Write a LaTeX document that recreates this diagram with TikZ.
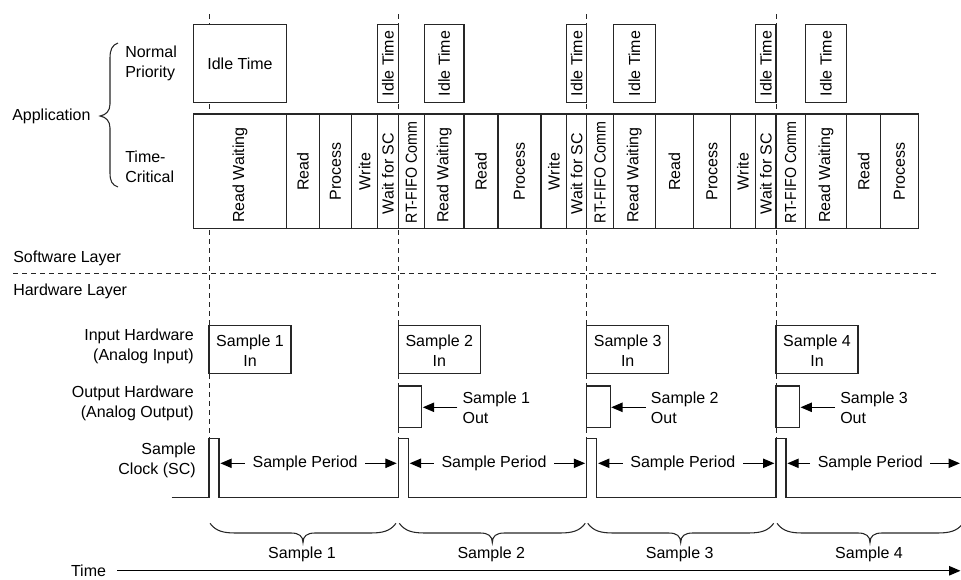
\documentclass[tikz,border=0pt]{standalone}
\usepackage{fontspec}
\setmainfont{Liberation Sans}
\usetikzlibrary{arrows.meta}
\newcommand\rtfifo{\scalebox{0.89}[1]{RT-FIFO Comm}}
\begin{document}
\begin{tikzpicture}[x=0.75pt,y={(0pt,-0.75pt)},
  box/.style={draw=black!85,line width=0.9pt,fill=white},
  lbl/.style={font=\fontsize{12}{15}\selectfont,inner sep=0pt},
  dsh/.style={draw=black!85,line width=0.7pt,dash pattern=on 4pt off 2.75pt},
  arr/.style={draw=black,line width=0.9pt,-{Triangle[length=8.5pt,width=7pt]}},
  ln/.style={draw=black!85,line width=0.9pt}]
\useasboundingbox (0,0) rectangle (961,579);

% vertical dashed sample-clock lines
\foreach \D [count=\k] in {209,398.3,586.7,776}{
  \coordinate (dt\k) at (\D,14);
  \coordinate (db\k) at (\D,438.3);
  \draw[dsh] (dt\k) -- (db\k);
}
% layer separator
\coordinate (sepL) at (13,273.3);
\coordinate (sepR) at (937,273.3);
\draw[dsh] (sepL) -- (sepR);

% left labels
\node[lbl,anchor=west] (app) at (12,116) {Application};
\draw[ln,line width=0.8pt] (118,43) .. controls (112,45) and (110,50) .. (110,58) -- (110,104)
  .. controls (110,111) and (106,115) .. (100,116) .. controls (106,117) and (110,121) .. (110,128)
  -- (110,173) .. controls (110,181) and (112,185) .. (118,187);
\node[lbl,anchor=west,align=left] (np) at (125,63.5) {Normal\\Priority};
\node[lbl,anchor=west,align=left] (tc) at (125,167) {Time-\\Critical};
\node[lbl,anchor=west] (sw) at (13,258.3) {Software Layer};
\node[lbl,anchor=west] (hw) at (13,291.7) {Hardware Layer};
\node[lbl,anchor=east,align=right] (ih) at (194,346.7) {Input Hardware\\(Analog Input)};
\node[lbl,anchor=east,align=right] (oh) at (194,403) {Output Hardware\\(Analog Output)};
\node[lbl,anchor=east,align=right] (sc) at (196,460) {Sample\\Clock (SC)};

% normal priority row
\draw[box] (193.3,24.3) rectangle (286.7,102.7);
\node[lbl] (idle0) at (240,63.5) {Idle Time};
\foreach \a/\b [count=\i] in {377.7/398.3, 424.3/464, 566.7/586.7, 613.3/655.3, 755.7/776, 805.3/846.7}{
  \draw[box] (\a,24.3) rectangle (\b,102.7);
  \node[lbl,rotate=90] (idle\i) at ({(\a+\b)/2},63.5) {Idle Time};
}

% time-critical row
\foreach \a/\b/\t/\y [count=\i] in {
  193.3/286.7/Read Waiting/175, 286.7/319.3/Read/171.5, 319.3/351.7/Process/171.5,
  351.7/377.7/Write/171.5, 377.7/398.3/Wait for SC/173.5,
  398.3/424.3/\rtfifo/172.5, 424.3/464/Read Waiting/175, 464/498/Read/171.5,
  498/541/Process/171.5, 541/566.7/Write/171.5, 566.7/586.7/Wait for SC/173.5,
  586.7/613.3/\rtfifo/172.5, 613.3/655.3/Read Waiting/175, 655.3/693.7/Read/171.5,
  693.7/730.3/Process/171.5, 730.3/755.7/Write/171.5, 755.7/776/Wait for SC/173.5,
  776/805.3/\rtfifo/172.5, 805.3/846.7/Read Waiting/175, 846.7/880.7/Read/171.5,
  880.7/918.3/Process/171.5}{
  \draw[box] (\a,114) rectangle (\b,228.3);
  \node[lbl,rotate=90] (tc\i) at ({(\a+\b)/2},\y) {\t};
}

% input hardware
\foreach \D [count=\k] in {209,398.3,586.7,776}{
  \draw[box] (\D,325.7) rectangle ({\D+82},373.3);
  \node[lbl,align=center] (in\k) at ({\D+41},350.5) {Sample \k\\In};
}
% output hardware
\foreach \D/\k/\j in {398.3/2/1,586.7/3/2,776/4/3}{
  \draw[box] (\D,386) rectangle ({\D+23.5},427.3);
  \coordinate (ot\k) at ({\D+24.5},407.3);
  \node[lbl,align=left,anchor=west,inner xsep=3.75pt] (out\k) at ({\D+59},407.3) {Sample \j\\Out};
  \draw[arr] (out\k.west) -- (ot\k);
}

% sample clock
\draw[ln] (171.7,497.3) \foreach \D in {209,398.3,586.7,776}{
  -- (\D,497.3) -- (\D,438.3) -- ({\D+10},438.3) -- ({\D+10},497.3)} -- (961,497.3);

% sample period arrows
\foreach \f/\n [count=\k] in {219/398.3, 408.3/586.7, 596.7/776, 786/961.5}{
  \coordinate (pl\k) at ({\f+1.4},463.3);
  \coordinate (pr\k) at ({\n-1.6},463.3);
  \node[lbl,inner xsep=5.6pt] (sp\k) at ({(\f+\n)/2-3.5},463.3) {Sample Period};
  \draw[arr] (sp\k.west) -- (pl\k);
  \draw[arr] (sp\k.east) -- (pr\k);
}

% braces and sample labels
\foreach \D [count=\k] in {209,398.3,586.7,776}{
  \draw[ln,line width=0.8pt] ({\D+1},523.3) .. controls ({\D+7},531.5) and ({\D+15},533) .. ({\D+27},533)
    -- ({\D+82},533) .. controls ({\D+90},533) and ({\D+94},536) .. ({\D+94},542.7)
    .. controls ({\D+94},536) and ({\D+98},533) .. ({\D+106},533)
    -- ({\D+161},533) .. controls ({\D+173},533) and ({\D+181},531.5) .. ({\D+187},523.3);
  \node[lbl] (s\k) at ({\D+93},554) {Sample \k};
}

% time axis
\node[lbl,anchor=base west,inner xsep=8.25pt] (time) at (59.75,576.5) {Time};
\coordinate (tend) at (960.5,571.5);
\draw[arr] (time.east) -- (time.east -| tend);
\end{tikzpicture}
\end{document}
